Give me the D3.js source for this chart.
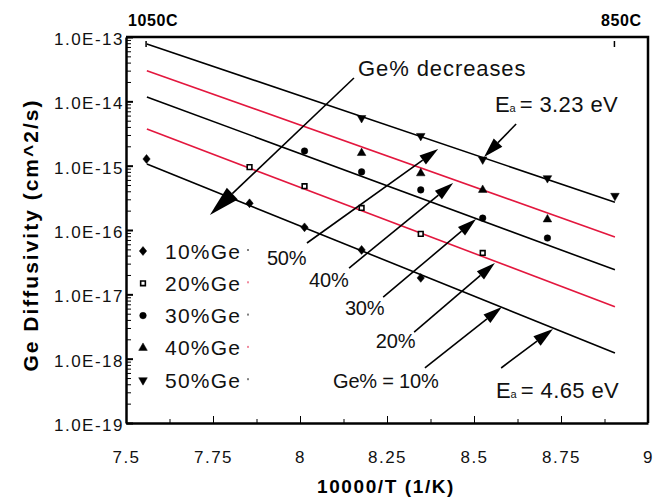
<!DOCTYPE html>
<html>
<head>
<meta charset="utf-8">
<script src="https://cdn.jsdelivr.net/npm/d3@7"></script>
<style>
	body { margin: 0; background: #fff; }
	svg { display: block; font-family: "Liberation Sans", Arial, Helvetica, sans-serif; }
</style>
</head>
<body>
<svg id="chart" width="672" height="498"></svg>
<script>

// 10000/T for the anneal temperatures 1050C .. 850C (25C steps)
var invT = [7.559, 7.855, 8.013, 8.177, 8.347, 8.525, 8.711, 8.905]

var seriesNames = ['10%Ge', '20%Ge', '30%Ge', '40%Ge', '50%Ge']
var ge10 = [1.27e-15, 2.6e-16, 1.1e-16, 4.9e-17, 1.8e-17, null, null, null]
var ge20 = [null, 9.5e-16, 4.8e-16, 2.2e-16, 8.7e-17, 4.4e-17, null, null]
var ge30 = [null, null, 1.69e-15, 8.0e-16, 4.2e-16, 1.53e-16, 7.5e-17, null]
var ge40 = [null, null, null, 1.57e-15, 7.6e-16, 4.2e-16, 1.46e-16, null]
var ge50 = [null, null, null, 5.5e-15, 2.9e-15, 1.25e-15, 6.4e-16, 3.4e-16]

// Arrhenius fit lines, value at each end of fitX (10% .. 50%)
var fitX = [7.56, 8.905]
var fitStart = [1.06e-15, 3.7e-15, 1.17e-14, 3.0e-14, 7.8e-14]
var fitEnd = [1.22e-18, 6.4e-18, 2.4e-17, 7.8e-17, 2.7e-16]

var xTicks = [7.5, 7.75, 8, 8.25, 8.5, 8.75, 9]
var yDecades = [-19, -18, -17, -16, -15, -14, -13]
var tempLabels = ['1050C', '850C']
var tempC = [1050, 850]

var lineColors = ['#000', '#e3173e', '#000', '#e3173e', '#000']
var allSeries = [ge10, ge20, ge30, ge40, ge50]

var svg = d3.select('#chart')

var x = d3.scaleLinear().domain([7.5, 9]).range([126, 648])
var y = d3.scaleLog().domain([1e-19, 1e-13]).range([423, 37])
var ly = function(e) { return y(Math.pow(10, e)) }

// custom diamond, a bit wider than d3's
var diamond = {
	draw: function(ctx, size) {
		var r = Math.sqrt(size) / 2
		ctx.moveTo(0, -r * 1.15)
		ctx.lineTo(r * 0.95, 0)
		ctx.lineTo(0, r * 1.15)
		ctx.lineTo(-r * 0.95, 0)
		ctx.closePath()
	}
}
var symbols = [
	{ type: diamond, size: 60, fill: '#000', rot: 0 },
	{ type: d3.symbolSquare, size: 22, fill: '#fff', rot: 0 },
	{ type: d3.symbolCircle, size: 34, fill: '#000', rot: 0 },
	{ type: d3.symbolTriangle, size: 32, fill: '#000', rot: 0 },
	{ type: d3.symbolTriangle, size: 32, fill: '#000', rot: 180 }
]

// ---- axes
var xAxis = svg.append('g')
	.attr('transform', 'translate(0,423)')
	.call(d3.axisBottom(x).tickValues(xTicks).tickSize(-7).tickSizeOuter(0).tickFormat(d3.format('')))
xAxis.selectAll('text')
	.attr('y', 34).attr('dy', '0.35em')
	.style('font-size', '17px').style('letter-spacing', '1.5px').style('fill', '#111')
svg.append('g')
	.attr('transform', 'translate(0,423)')
	.call(d3.axisBottom(x).tickValues(xTicks.slice(1).map(v => v - 0.125)).tickSize(-4).tickSizeOuter(0).tickFormat(''))
	.select('.domain').remove()

var minors = []
yDecades.slice(0, -1).forEach(function(e) {
	for (var k = 2; k <= 9; k++) minors.push(k * Math.pow(10, e))
})
var yAxis = svg.append('g')
	.attr('transform', 'translate(126,0)')
	.call(d3.axisLeft(y).tickValues(yDecades.map(e => Math.pow(10, e))).tickSize(-7).tickSizeOuter(0)
		.tickFormat(d => '1.0E' + Math.round(Math.log10(d))))
yAxis.selectAll('text')
	.attr('x', -2).attr('dy', '0.45em')
	.style('font-size', '17px').style('letter-spacing', '1.5px').style('fill', '#111')
yAxis.selectAll('.tick line').attr('stroke-width', 2)
svg.append('g')
	.attr('transform', 'translate(126,0)')
	.call(d3.axisLeft(y).tickValues(minors).tickSize(-5).tickSizeOuter(0).tickFormat(''))
	.select('.domain').remove()

svg.selectAll('.domain').attr('stroke-width', 2.5)
svg.selectAll('.tick line').attr('stroke', '#000')

// frame top & right
svg.append('path')
	.attr('d', d3.line()([[x(7.5), y(1e-13)], [x(9), y(1e-13)], [x(9), y(1e-19)]]))
	.attr('fill', 'none').attr('stroke', '#000').attr('stroke-width', 2.5)

// temperature marks on top
var toInv = c => 10000 / (c + 273.15)
svg.selectAll('.temp')
	.data(tempC)
	.enter().append('line')
	.attr('x1', d => x(toInv(d))).attr('x2', d => x(toInv(d)))
	.attr('y1', 41).attr('y2', 47)
	.attr('stroke', '#000').attr('stroke-width', 1.5)
svg.selectAll('.tempLabel')
	.data(tempLabels)
	.enter().append('text')
	.attr('x', (d, i) => x(toInv(tempC[i])) + 7)
	.attr('y', 26)
	.attr('text-anchor', 'middle')
	.style('font-size', '16px').style('font-weight', 'bold').style('letter-spacing', '0.6px')
	.text(d => d)

// ---- fit lines
svg.selectAll('.fit')
	.data(fitStart)
	.enter().append('line')
	.attr('x1', x(fitX[0])).attr('x2', x(fitX[1]))
	.attr('y1', d => y(d)).attr('y2', (d, i) => y(fitEnd[i]))
	.attr('stroke', (d, i) => lineColors[i])
	.attr('stroke-width', 1.6)

// ---- data points
allSeries.forEach(function(vals, s) {
	var pts = invT.map((t, i) => [t, vals[i]]).filter(p => p[1] != null)
	var sym = symbols[s]
	svg.selectAll('.pt' + s)
		.data(pts)
		.enter().append('path')
		.attr('d', d3.symbol().type(sym.type).size(sym.size))
		.attr('transform', d => 'translate(' + x(d[0]) + ',' + y(d[1]) + ') rotate(' + sym.rot + ')')
		.attr('fill', sym.fill)
		.attr('stroke', '#000')
		.attr('stroke-width', s == 1 ? 1.6 : 0.5)
})

// ---- legend
var legend = svg.selectAll('.legend')
	.data(seriesNames)
	.enter().append('g')
	.attr('class', 'legend')
	.attr('transform', (d, i) => 'translate(143,' + (251 + i * 32.3) + ')')
legend.append('path')
	.attr('d', (d, i) => d3.symbol().type(symbols[i].type).size(symbols[i].size)())
	.attr('transform', (d, i) => 'rotate(' + symbols[i].rot + ')')
	.attr('fill', (d, i) => symbols[i].fill)
	.attr('stroke', '#000')
	.attr('stroke-width', (d, i) => i == 1 ? 1.6 : 0.5)
legend.append('text')
	.attr('x', 22)
	.attr('dy', '0.36em')
	.style('font-size', '21px').style('letter-spacing', '1.2px').style('fill', '#111')
	.text(d => d)
legend.append('line')
	.attr('x1', 105).attr('x2', 105).attr('y1', -2).attr('y2', 0)
	.attr('stroke', (d, i) => lineColors[i])

// ---- annotations, positions in data units [1/K, log10 D]
function arrow(from, tip, len, hw) {
	var x1 = x(from[0]), y1 = ly(from[1]), x2 = x(tip[0]), y2 = ly(tip[1])
	var a = Math.atan2(y2 - y1, x2 - x1)
	var bx = x2 - len * Math.cos(a), by = y2 - len * Math.sin(a)
	svg.append('line')
		.attr('x1', x1).attr('y1', y1).attr('x2', bx).attr('y2', by)
		.attr('stroke', '#000').attr('stroke-width', 1.6)
	svg.append('path')
		.attr('d', d3.line()([[x2, y2],
			[bx + hw * Math.sin(a), by - hw * Math.cos(a)],
			[bx - hw * Math.sin(a), by + hw * Math.cos(a)]]) + 'Z')
		.attr('fill', '#000')
}

function label(pos, txt, size) {
	return svg.append('text')
		.attr('x', x(pos[0])).attr('y', ly(pos[1]))
		.style('font-size', size + 'px').style('fill', '#111')
		.text(txt)
}

arrow([8.155, -13.637], [7.741, -15.767], 31, 8)
label([8.167, -13.606], 'Ge% decreases', 22).style('letter-spacing', '0.9px')

var pctNotes = [
	{ t: '50%', at: [7.905, -16.544], from: [8.020, -16.202], tip: [8.397, -14.741] },
	{ t: '40%', at: [8.026, -16.886], from: [8.141, -16.591], tip: [8.440, -15.270] },
	{ t: '30%', at: [8.129, -17.321], from: [8.239, -17.042], tip: [8.506, -15.829] },
	{ t: '20%', at: [8.218, -17.834], from: [8.328, -17.586], tip: [8.560, -16.513] },
	{ t: 'Ge% = 10%', at: [8.095, -18.456], from: [8.359, -18.145], tip: [8.580, -17.197] }
]
pctNotes.forEach(function(n) {
	arrow(n.from, n.tip, 19, 5.5)
	label(n.at, n.t, 20).style('letter-spacing', '-0.2px')
})

var eaNotes = [
	{ v: '= 3.23 eV', at: [8.560, -14.166], from: [8.621, -14.352], tip: [8.529, -14.865] },
	{ v: '= 4.65 eV', at: [8.563, -18.612], from: [8.578, -18.145], tip: [8.727, -17.539] }
]
eaNotes.forEach(function(n) {
	arrow(n.from, n.tip, 20, 6)
	var t = label(n.at, '', 22)
	t.append('tspan').text('E')
	t.append('tspan').style('font-size', '11px').text('a')
	t.append('tspan').attr('dx', 4).style('letter-spacing', '0.4px').text(n.v)
})

// ---- axis titles
svg.append('text')
	.attr('x', 386).attr('y', 493)
	.attr('text-anchor', 'middle')
	.style('font-size', '19px').style('font-weight', 'bold').style('letter-spacing', '1.6px')
	.text('10000/T (1/K)')
svg.append('text')
	.attr('transform', 'translate(38,235) rotate(-90)')
	.attr('text-anchor', 'middle')
	.style('font-size', '21px').style('font-weight', 'bold').style('letter-spacing', '2px')
	.text('Ge Diffusivity (cm^2/s)')

</script>
</body>
</html>
